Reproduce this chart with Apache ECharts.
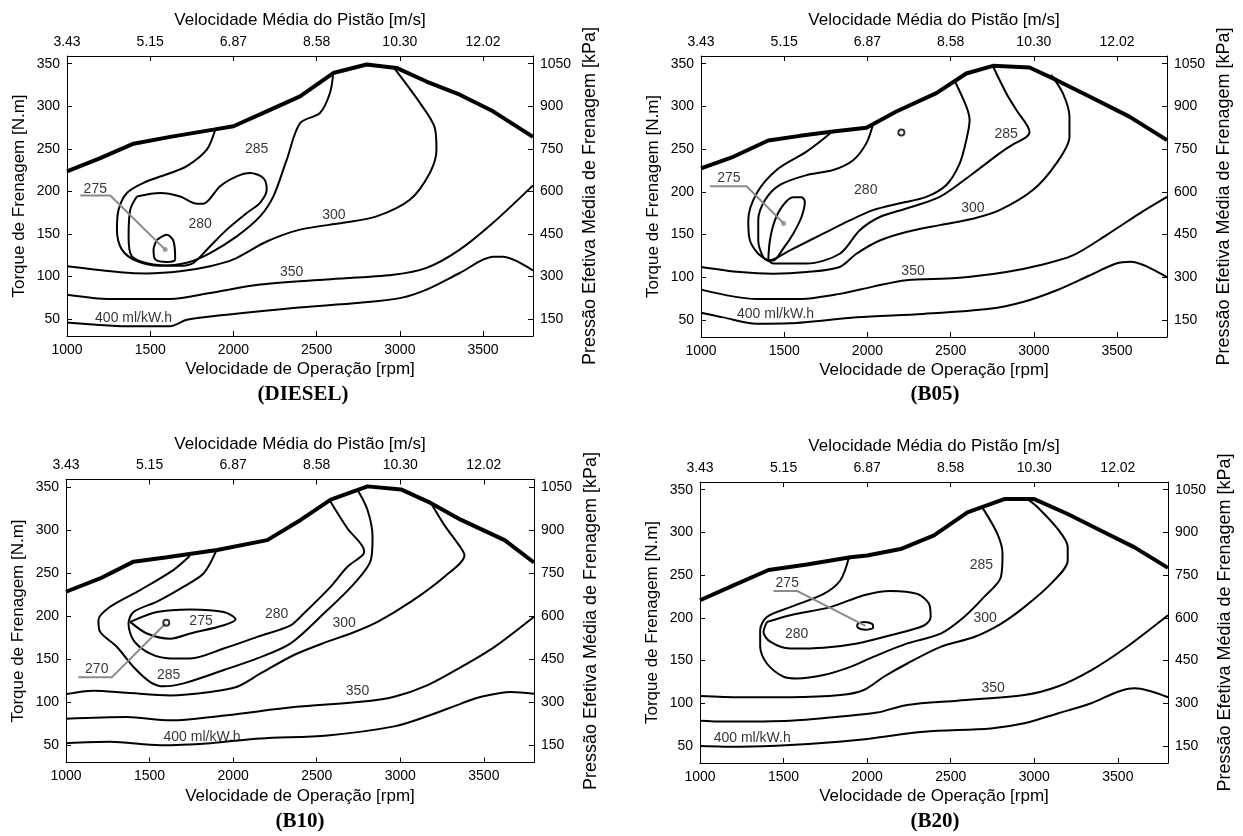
<!DOCTYPE html>
<html>
<head>
<meta charset="utf-8">
<script src="https://cdn.jsdelivr.net/npm/echarts@6/dist/echarts.min.js"></script>
<style>html,body{margin:0;padding:0;background:#fff}#c{width:1243px;height:836px}</style>
</head>
<body>
<div id="c"></div>
<script>
// ---- tick labels ----
const rpmTicks = [1000, 1500, 2000, 2500, 3000, 3500];
const pistonLabels = ['3.43', '5.15', '6.87', '8.58', '10.30', '12.02'];
const torqueTicks = [50, 100, 150, 200, 250, 300, 350];
const pressureTicks = [150, 300, 450, 600, 750, 900, 1050];
const panelNames = ['(DIESEL)', '(B05)', '(B10)', '(B20)'];

// ---- DIESEL ----
const dieselEnvelope = [[1000,223.5],[1200,239],[1400,256],[1620,264],[1880,272.5],[2000,276.5],[2200,294],[2400,311.5],[2600,339],[2800,349],[2980,345],[3160,329],[3360,313.5],[3560,294],[3800,264]];
const diesel400 = [[1000,46],[1160,43.5],[1360,41.5],[1620,41.5],[1720,49],[1960,55],[2360,63],[2760,69],[3000,74.5],[3160,84.5],[3360,104],[3560,123],[3620,123],[3800,107]];
const diesel350 = [[1000,78.5],[1260,73.5],[1620,73.5],[1860,80.5],[2160,90.5],[2560,96.5],[2960,102],[3160,110],[3360,131.5],[3560,163],[3800,207]];
const diesel300 = [[1000,112],[1320,105],[1480,103.5],[1680,106],[1860,112],[2000,120],[2200,141],[2400,155],[2660,163],[2860,170.5],[3060,190],[3180,221.5],[3220,249],[3210,274.5],[3120,304],[2965,345]];
const diesel285 = [[1890,272],[1840,249],[1720,229.5],[1620,221.5],[1460,210],[1360,198],[1310,178.5],[1300,155],[1330,131.5],[1420,118],[1560,112.5],[1720,116],[1860,127.5],[2020,147],[2160,170.5],[2240,194],[2320,237],[2400,280],[2520,292],[2580,315.5],[2600,339]];
const diesel280 = [[1420,194],[1560,198],[1680,194],[1780,185.5],[1820,185.5],[1920,206],[2020,217.5],[2100,221.5],[2180,215.5],[2200,202],[2160,186.5],[2080,174.5],[1960,155],[1860,135.5],[1760,116],[1680,112.5],[1520,114],[1390,123.5],[1370,147],[1380,178.5],[1420,194]];
const diesel275 = [[1540,143],[1600,149],[1640,141.5],[1650,120],[1600,117],[1530,120],[1520,131.5],[1540,143]];
const dieselLeader = [[1080,195],[1260,195],[1590,131.5]];
const dieselDots = [[1590,131.5]];
const dieselRings = [];
const dieselLabels = [[1170,203,'275'],[1800,161,'280'],[2140,249,'285'],[2604,172.5,'300'],[2350,105,'350'],[1400,51,'400 ml/kW.h']];

// ---- B05 ----
const b05Envelope = [[1000,227.5],[1194,241],[1404,260],[1594,265.5],[1794,270.5],[1994,275],[2174,294],[2414,315.5],[2594,338.5],[2754,347.5],[2974,345.5],[3134,331],[3334,311.5],[3574,288],[3800,260.5]];
const b05_400 = [[1000,58.5],[1134,53],[1334,45.5],[1534,46],[1934,53],[2334,57],[2734,63],[2934,71],[3134,84.5],[3334,102],[3494,116],[3584,118],[3800,100]];
const b05_350 = [[1000,85.5],[1334,74.5],[1594,74.5],[1834,80.5],[2034,89],[2234,96.5],[2534,99],[2834,106],[3034,114],[3234,125.5],[3434,149],[3634,174.5],[3800,194]];
const b05_300 = [[1000,112],[1234,106],[1434,104],[1634,106],[1834,112],[1934,127.5],[2074,143],[2234,153],[2434,161],[2634,168.5],[2794,178.5],[2994,202],[3134,233],[3214,264.5],[3214,288],[3174,315.5],[3104,337]];
const b05_285 = [[1774,268],[1634,247],[1454,225.5],[1334,198],[1284,166.5],[1294,143],[1344,127.5],[1404,119.5],[1434,116],[1634,116],[1834,127.5],[1954,155],[2074,170.5],[2234,180.5],[2434,194],[2634,221.5],[2794,245],[2880,256],[2954,264],[2974,270],[2894,296],[2834,315.5],[2754,347]];
const b05_280 = [[2034,279],[1994,257],[1914,237],[1794,225.5],[1634,219.5],[1474,208],[1384,190],[1344,166.5],[1344,143],[1374,123.5],[1404,119.5],[1534,131.5],[1734,151],[1894,166.5],[2034,178.5],[2194,186.5],[2354,194],[2474,208],[2554,233],[2594,260.5],[2614,284],[2594,300],[2524,330]];
const b05_275 = [[1404,119.5],[1414,143],[1444,166.5],[1494,184.5],[1554,193.5],[1604,193.5],[1624,188.5],[1604,170.5],[1554,151],[1494,133.5],[1434,119.5],[1404,119.5]];
const b05Leader = [[1054,206.5],[1274,206.5],[1497,163]];
const b05Dots = [[1497,163]];
const b05Rings = [[2204,269.5]];
const b05Labels = [[1168,215.5,'275'],[1990,202,'280'],[2834,268,'285'],[2634,180.5,'300'],[2274,107,'350'],[1448,57,'400 ml/kW.h']];

// ---- B10 ----
const b10Envelope = [[1000,228.5],[1204,244],[1404,263.5],[1604,268.5],[1904,277],[2204,288.5],[2404,312],[2584,335.5],[2804,351],[3004,347.5],[3184,331.5],[3364,312],[3624,288.5],[3800,262.5]];
const b10_400 = [[1000,52.5],[1264,54],[1564,50],[1864,52.5],[2164,58],[2564,61.5],[2964,72],[3164,84],[3364,98.5],[3484,106.5],[3664,112],[3800,110]];
const b10_350 = [[1000,81],[1364,83],[1624,79],[1964,85],[2364,94.5],[2764,100.5],[2964,106.5],[3164,120],[3364,141],[3564,164.5],[3800,199.5]];
const b10_300 = [[1000,109.5],[1164,113.5],[1364,111],[1624,108],[1864,112],[2024,118],[2164,133.5],[2364,155],[2564,170.5],[2704,180],[2864,193.5],[3064,217],[3264,246],[3384,271],[3364,279],[3264,306],[3184,331.5]];
const b10_285 = [[1740,270],[1644,254],[1444,230.5],[1264,211],[1194,195.5],[1204,182],[1304,164.5],[1404,141],[1504,123.5],[1584,118.5],[1704,122],[1944,137.5],[2144,151],[2344,168.5],[2544,203.5],[2724,238],[2824,265.5],[2834,292.5],[2804,323.5],[2744,347]];
const b10_280 = [[1900,276.5],[1824,250],[1704,234.5],[1544,217],[1404,205],[1374,191.5],[1404,172],[1504,156.5],[1624,151],[1744,151],[1944,162.5],[2144,176],[2344,189.5],[2424,203.5],[2584,234.5],[2684,257.5],[2774,271],[2784,276],[2684,302],[2580,334]];
const b10_275 = [[1384,193.5],[1544,205],[1744,208],[1944,205],[2014,196.5],[1944,189.5],[1744,180],[1624,174],[1484,180],[1384,193.5]];
const b10Leader = [[1074,129],[1274,129],[1600,192.5]];
const b10Dots = [];
const b10Rings = [[1600,192.5]];
const b10Labels = [[1184,138,'270'],[1808,194,'275'],[2260,202.5,'280'],[1614,131,'285'],[2664,191.5,'300'],[2744,113.5,'350'],[1814,59,'400 ml/kW.h']];

// ---- B20 ----
const b20Envelope = [[1000,220.5],[1200,238],[1410,256],[1640,262.5],[1900,271],[2000,273],[2200,280.5],[2400,296.5],[2600,323.5],[2820,339],[3000,339],[3200,321.5],[3400,302],[3600,282.5],[3800,258.5]];
const b20_400 = [[1000,50],[1240,49],[1540,51],[1940,57],[2340,66.5],[2740,70.5],[2940,76.5],[3140,88],[3340,100],[3500,113.5],[3600,117.5],[3800,107]];
const b20_350 = [[1000,79.5],[1140,78.5],[1540,79.5],[1840,84.5],[2060,89],[2240,98],[2540,103],[2940,109.5],[3140,119.5],[3340,138.5],[3540,164],[3800,203]];
const b20_300 = [[1000,108.5],[1240,107],[1540,107],[1840,109.5],[1980,115.5],[2100,131],[2240,146.5],[2440,166],[2640,177.5],[2800,193],[2940,212.5],[3100,240],[3200,267],[3200,283],[3140,304],[3020,329.5],[2960,339]];
const b20_285 = [[1890,270],[1840,244],[1740,228],[1540,212.5],[1400,201],[1360,185.5],[1360,166],[1400,146.5],[1500,131],[1580,129],[1740,133],[1900,142.5],[2040,154.5],[2240,170],[2440,181.5],[2580,201],[2700,224.5],[2800,247.5],[2810,275],[2780,298],[2690,329]];
const b20_280 = [[1400,195],[1540,203],[1780,212.5],[1980,226.5],[2140,231.5],[2300,228],[2370,216.5],[2380,201],[2340,191],[2140,179.5],[1940,170],[1740,165],[1540,164],[1420,172],[1380,183.5],[1400,195]];
const b20_275 = [[1940,192.5],[1980,195],[2030,193],[2036,188.5],[1990,186],[1944,188.5],[1940,192.5]];
const b20Leader = [[1440,231.5],[1580,231.5],[1990,190.5]];
const b20Dots = [];
const b20Rings = [];
const b20Labels = [[1522,240,'275'],[1578,181,'280'],[2684,261.5,'285'],[2706,200,'300'],[2754,118,'350'],[1312,59.5,'400 ml/kW.h']];

const FONT = '"Liberation Sans", Arial, sans-serif';
const panels = [
  {grid:{left:67, top:56, width:466, height:280}, env:dieselEnvelope, lines:[diesel400,diesel350,diesel300,diesel285,diesel280,diesel275], leader:dieselLeader, dots:dieselDots, rings:dieselRings, labels:dieselLabels, title:[303,395]},
  {grid:{left:701, top:56, width:466, height:281}, env:b05Envelope, lines:[b05_400,b05_350,b05_300,b05_285,b05_280,b05_275], leader:b05Leader, dots:b05Dots, rings:b05Rings, labels:b05Labels, title:[935,395]},
  {grid:{left:66, top:479.5, width:468, height:283}, env:b10Envelope, lines:[b10_400,b10_350,b10_300,b10_285,b10_280,b10_275], leader:b10Leader, dots:b10Dots, rings:b10Rings, labels:b10Labels, title:[300,822]},
  {grid:{left:700, top:482, width:468, height:281}, env:b20Envelope, lines:[b20_400,b20_350,b20_300,b20_285,b20_280,b20_275], leader:b20Leader, dots:b20Dots, rings:b20Rings, labels:b20Labels, title:[935,822]}
];

const txt = {color:'#000', fontSize:14, fontFamily:FONT};
const nameTxt = {color:'#000', fontSize:17, fontFamily:FONT};
const rightNameTxt = {color:'#000', fontSize:18, fontFamily:FONT};
const axLine = {show:true, onZero:false, lineStyle:{color:'#000', width:1}};
const plain = v => String(v);
function tick(vals){ return {show:true, inside:true, length:5, customValues:vals, lineStyle:{color:'#000', width:1}}; }

const grids = [], xAxes = [], yAxes = [], series = [], graphics = [];
panels.forEach((p, gi) => {
  grids.push(p.grid);
  xAxes.push({type:'value', gridIndex:gi, position:'bottom', min:1000, max:3800,
    axisLine:axLine, axisTick:tick(rpmTicks), splitLine:{show:false},
    axisLabel:Object.assign({customValues:rpmTicks, margin:7, formatter:plain}, txt),
    name:'Velocidade de Operação [rpm]', nameLocation:'middle', nameGap:25, nameTextStyle:nameTxt});
  xAxes.push({type:'value', gridIndex:gi, position:'top', min:1000, max:3800,
    axisLine:axLine, axisTick:tick(rpmTicks), splitLine:{show:false},
    axisLabel:Object.assign({customValues:rpmTicks, margin:7, formatter:v => pistonLabels[rpmTicks.indexOf(v)]}, txt),
    name:'Velocidade Média do Pistão [m/s]', nameLocation:'middle', nameGap:27, nameTextStyle:nameTxt});
  yAxes.push({type:'value', gridIndex:gi, position:'left', min:30, max:359,
    axisLine:axLine, axisTick:tick(torqueTicks), splitLine:{show:false},
    axisLabel:Object.assign({customValues:torqueTicks, margin:7, formatter:plain}, txt),
    name:'Torque de Frenagem [N.m]', nameLocation:'middle', nameGap:39, nameTextStyle:nameTxt});
  yAxes.push({type:'value', gridIndex:gi, position:'right', min:90, max:1077,
    axisLine:axLine, axisTick:tick(pressureTicks), splitLine:{show:false},
    axisLabel:Object.assign({customValues:pressureTicks, margin:7, formatter:plain}, txt),
    name:'Pressão Efetiva Média de Frenagem [kPa]', nameLocation:'middle', nameGap:48, nameRotate:90, nameTextStyle:rightNameTxt});

  const xi = gi*2, yi = gi*2;
  series.push({type:'line', xAxisIndex:xi, yAxisIndex:yi, data:p.env, symbol:'none', silent:true,
    lineStyle:{color:'#000', width:4}, z:3});
  p.lines.forEach(d => series.push({type:'line', xAxisIndex:xi, yAxisIndex:yi, data:d, symbol:'none', smooth:0.3, silent:true,
    lineStyle:{color:'#000', width:2}, z:3}));
  series.push({type:'line', xAxisIndex:xi, yAxisIndex:yi, data:p.leader, symbol:'none', silent:true,
    lineStyle:{color:'#8a8a8a', width:2}, z:4});
  if (p.dots.length) series.push({type:'scatter', xAxisIndex:xi, yAxisIndex:yi, data:p.dots, symbol:'circle', symbolSize:5, silent:true,
    itemStyle:{color:'#8a8a8a'}, z:5});
  if (p.rings.length) series.push({type:'scatter', xAxisIndex:xi, yAxisIndex:yi, data:p.rings, symbol:'circle', symbolSize:6, silent:true,
    itemStyle:{color:'#fff', borderColor:'#000', borderWidth:2}, z:5});
  series.push({type:'scatter', xAxisIndex:xi, yAxisIndex:yi, symbol:'circle', symbolSize:1, silent:true,
    itemStyle:{color:'rgba(0,0,0,0)'}, z:6,
    data:p.labels.map(l => ({value:[l[0], l[1]], name:l[2]})),
    label:Object.assign({show:true, position:'inside', formatter:'{b}'}, txt)});
  graphics.push({type:'text', x:p.title[0], y:p.title[1], silent:true,
    style:{text:panelNames[gi], font:'bold 21px "Liberation Serif", "Times New Roman", serif', fill:'#000',
      align:'center', verticalAlign:'middle', textAlign:'center', textVerticalAlign:'middle'}});
});

const chart = echarts.init(document.getElementById('c'), null, {renderer:'canvas'});
chart.setOption({
  animation:false,
  backgroundColor:'#fff',
  grid:grids, xAxis:xAxes, yAxis:yAxes, series:series, graphic:graphics
});
</script>
</body>
</html>
